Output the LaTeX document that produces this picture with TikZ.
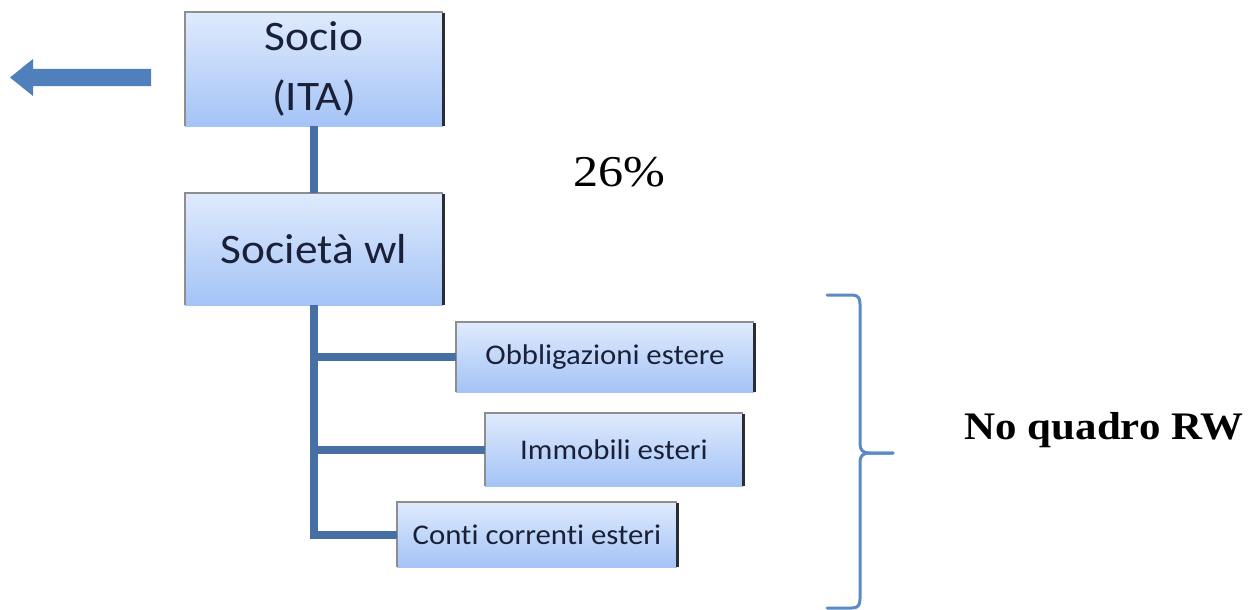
\documentclass[tikz,border=0pt]{standalone}
\usepackage{fontspec}
\newfontfamily\boxfont[FakeStretch=1.08, Ligatures=NoCommon]{Carlito}
\newfontfamily\notefont[FakeStretch=1.14]{Liberation Serif}
\newfontfamily\labelfont[FakeStretch=1.1]{Liberation Serif}
\definecolor{boxtop}{HTML}{DFEBFD}
\definecolor{boxbot}{HTML}{A4C3F6}
\definecolor{edgegray}{HTML}{8E8E8E}
\definecolor{edgedark}{HTML}{2A2D33}
\definecolor{connblue}{HTML}{466FA3}
\definecolor{arrowblue}{HTML}{4F80BC}
\definecolor{braceblue}{HTML}{5B8AC7}
\definecolor{boxtext}{HTML}{1A2038}
\tikzset{
  cell/.style={inner sep=0pt, top color=boxtop, bottom color=boxbot, draw=none,
    text=boxtext, align=center},
  bigcell/.style={cell, font=\boxfont\fontsize{42}{60}\selectfont},
  smallcell/.style={cell, font=\boxfont\fontsize{28.5}{34}\selectfont},
  conn/.style={connblue, line width=8pt},
  brace/.style={braceblue, line width=3pt, line cap=round, line join=round},
  note/.style={inner sep=0pt, text=black},
}
\begin{document}
\begin{tikzpicture}[x=1pt, y=-1pt]
\useasboundingbox (0,0) rectangle (1250,610);

% boxes
\node[bigcell, minimum width=258pt, minimum height=114pt] (soc) at (314,69) {Socio\\(ITA)};
\node[bigcell, minimum width=258pt, minimum height=112pt] (wl) at (314,249) {Società wl};
\node[smallcell, minimum width=298pt, minimum height=70pt] (obb) at (605,357) {Obbligazioni estere};
\node[smallcell, minimum width=258pt, minimum height=73pt] (imm) at (614,449.5) {Immobili esteri};
\node[smallcell, minimum width=280pt, minimum height=65pt] (cc) at (537,534.5) {Conti correnti esteri};

% box edges: light top and left, dark right
\foreach \n in {soc,wl,obb,imm,cc} {
  \draw[edgegray, line width=2pt] (\n.south west) -- (\n.north west) -- (\n.north east);
  \draw[edgedark, line width=3pt] ([yshift=-1pt]\n.north east) -- (\n.south east);
}

% connectors
\draw[conn] (soc.south) -- (wl.north);
\draw[conn] (wl.south) |- (cc.west);
\draw[conn] (obb.west) -- (obb.west -| wl.south);
\draw[conn] (imm.west) -- (imm.west -| wl.south);

% block arrow pointing left
\fill[arrowblue] (151,69) -- (33,69) -- (33,59) -- (10,77.5) -- (33,96) -- (33,86) -- (151,86) -- cycle;

% percentage
\node[note, anchor=base west, font=\notefont\fontsize{44}{50}\selectfont] (pct) at (573,186) {26\%};

% curly brace
\draw[brace] (827,295) -- (852,295) .. controls (858,295) and (860,298) .. (860,304)
  -- (860,444) .. controls (860,450) and (863,453) .. (869,453) -- (893,453);
\draw[brace] (893,453) -- (869,453) .. controls (863,453) and (860,456) .. (860,462)
  -- (860,599) .. controls (860,605) and (858,608) .. (852,608) -- (827,608);

% label
\node[note, anchor=base east, font=\labelfont\bfseries\fontsize{39}{45}\selectfont] (rw) at (1244,439) {No quadro RW};
\end{tikzpicture}
\end{document}
